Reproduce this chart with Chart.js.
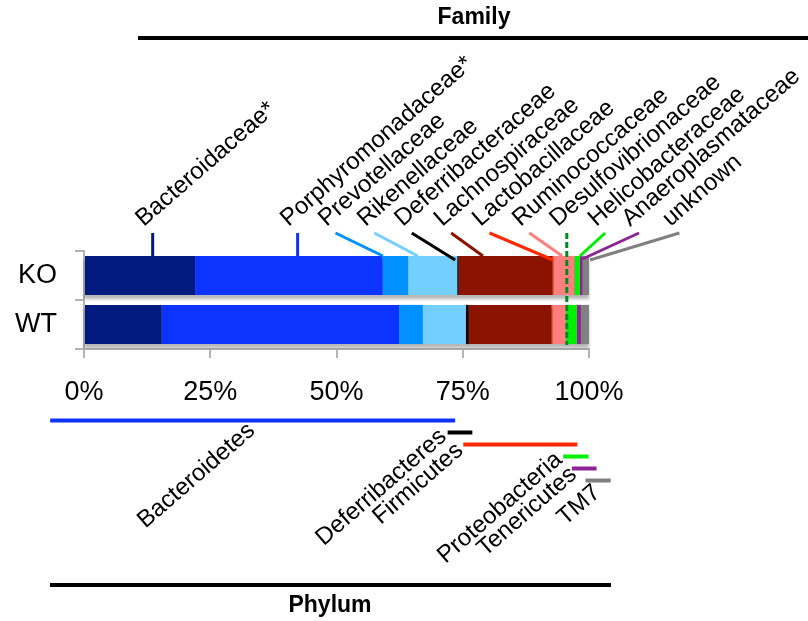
<!DOCTYPE html>
<html>
<head>
<meta charset="utf-8">
<script src="https://cdn.jsdelivr.net/npm/chart.js@4.4.1/dist/chart.umd.min.js"></script>
<style>
  body { margin: 0; background: #fff; }
  #grafico { display: block; }
</style>
</head>
<body>
<canvas id="grafico" width="808" height="621"></canvas>
<script>
const groups = ['KO', 'WT'];
const families = ['Bacteroidaceae*', 'Porphyromonadaceae*', 'Prevotellaceae', 'Rikenellaceae',
    'Deferribacteraceae', 'Lachnospiraceae', 'Lactobacillaceae', 'Ruminococcaceae',
    'Desulfovibrionaceae', 'Helicobacteraceae', 'Anaeroplasmataceae', 'unknown'];
const koValues = [22.0, 37.15, 5.05, 9.7, 0.3, 18.6, 0.2, 4.1, 0.1, 1.0, 0.55, 1.25];
const wtValues = [15.4, 47.0, 4.7, 8.5, 0.6, 16.4, 0.2, 2.6, 0.1, 2.1, 0.8, 1.6];
const familyColors = ['#001a80', '#0d33ff', '#0090ff', '#73cfff', '#000000', '#8b1300',
    '#ff2a00', '#ff7f7f', '#008a1e', '#00f000', '#8c2496', '#808080'];
const xTicks = [0, 25, 50, 75, 100];

// family label anchors and leader line ends, in axis %
const labelAt = [13.6, 42.3, 49.8, 57.5, 64.9, 72.7, 80.3, 88.2, 95.6, 103.2, 109.9, 117.9];
const leaderTo = [13.6, 42.3, 59.2, 66.1, 73.5, 79.0, 92.9, 94.7, 95.6, 98.2, 98.7, 100.2];
const leaderDrop = [0, 0, 0, 0, 4, 0, 4, 0, 0, 0, 3, 4];

const phyla = ['Bacteroidetes', 'Deferribacteres', 'Firmicutes', 'Proteobacteria', 'Tenericutes', 'TM7'];
const phylumFrom = [-6.7, 72.0, 75.1, 94.9, 96.6, 99.3];
const phylumTo = [73.5, 76.9, 97.7, 99.9, 101.5, 104.3];
const phylumColors = ['#0d33ff', '#000000', '#ff2a00', '#00f000', '#8c2496', '#808080'];
// label end offset from the start of each phylum line (px)
const phylumLabelDx = [206, 0, 1, 0, 6, 16];
const phylumLabelDy = [12, 6, 8, 5, 8, 14];

const FONT = '"Liberation Sans", Arial, sans-serif';
const ANGLE = -41 * Math.PI / 180;

const annotations = {
    id: 'annotations',
    beforeDatasetsDraw(chart) {
        const ctx = chart.ctx;
        const x = chart.scales.x;
        const meta = chart.getDatasetMeta(0);
        ctx.save();
        ctx.filter = 'blur(1.5px)';
        ctx.fillStyle = 'rgba(0,0,0,0.28)';
        meta.data.forEach(bar => {
            ctx.fillRect(x.left, bar.y - bar.height / 2 + 4, x.getPixelForValue(100) - x.left, bar.height);
        });
        ctx.restore();
    },
    afterDatasetsDraw(chart) {
        const ctx = chart.ctx;
        const x = chart.scales.x;
        const area = chart.chartArea;
        const topY = 233;
        ctx.save();
        ctx.lineWidth = 3;
        families.forEach((name, i) => {
            const x0 = x.getPixelForValue(labelAt[i]);
            const x1 = x.getPixelForValue(leaderTo[i]);
            ctx.strokeStyle = familyColors[i];
            ctx.beginPath();
            if (name === 'Desulfovibrionaceae') {
                ctx.setLineDash([6, 3]);
                ctx.moveTo(x0, topY);
                ctx.lineTo(x1, area.bottom - 4);
            } else {
                ctx.setLineDash([]);
                ctx.moveTo(x0, topY);
                ctx.lineTo(x1, area.top + 5 + leaderDrop[i]);
            }
            ctx.stroke();
        });
        ctx.restore();
    },
    afterDraw(chart) {
        const ctx = chart.ctx;
        const x = chart.scales.x;
        ctx.save();

        // family labels
        ctx.fillStyle = '#000';
        ctx.font = '24px ' + FONT;
        ctx.textAlign = 'left';
        ctx.textBaseline = 'alphabetic';
        families.forEach((name, i) => {
            ctx.save();
            ctx.translate(x.getPixelForValue(labelAt[i]) - 9, 227);
            ctx.rotate(ANGLE);
            ctx.fillText(name, 0, 0);
            ctx.restore();
        });

        // phylum lines and labels
        ctx.lineWidth = 4;
        ctx.textAlign = 'right';
        phyla.forEach((name, i) => {
            const y = 420.5 + i * 12;
            const x0 = x.getPixelForValue(phylumFrom[i]);
            const x1 = x.getPixelForValue(phylumTo[i]);
            ctx.strokeStyle = phylumColors[i];
            ctx.beginPath();
            ctx.moveTo(x0, y);
            ctx.lineTo(x1, y);
            ctx.stroke();

            ctx.save();
            ctx.translate(x0 + phylumLabelDx[i], y + phylumLabelDy[i]);
            ctx.rotate(ANGLE);
            ctx.fillText(name, 0, 0);
            ctx.restore();
        });

        // Family / Phylum headers
        ctx.strokeStyle = '#000';
        ctx.lineWidth = 4;
        ctx.beginPath();
        ctx.moveTo(138, 38);
        ctx.lineTo(808, 38);
        ctx.moveTo(50, 585);
        ctx.lineTo(611, 585);
        ctx.stroke();
        ctx.font = 'bold 23px ' + FONT;
        ctx.textAlign = 'center';
        ctx.textBaseline = 'middle';
        ctx.fillText('Family', 474, 18);
        ctx.fillText('Phylum', 330, 606);
        ctx.restore();
    }
};

const datasets = families.map((name, i) => ({
    label: name,
    data: [koValues[i], wtValues[i]],
    backgroundColor: familyColors[i],
    borderWidth: 0,
    categoryPercentage: 0.8,
    barPercentage: 1.0
}));

const myChart = new Chart(document.getElementById('grafico'), {
    type: 'bar',
    data: { labels: groups, datasets: datasets },
    options: {
        indexAxis: 'y',
        responsive: false,
        animation: false,
        devicePixelRatio: 1,
        layout: { padding: { top: 251, right: 219, bottom: 212, left: 0 } },
        plugins: {
            legend: { display: false },
            tooltip: { enabled: false }
        },
        scales: {
            x: {
                stacked: true,
                min: 0,
                max: 100,
                afterFit: s => { s.height = 60; },
                afterBuildTicks: s => { s.ticks = xTicks.map(v => ({ value: v })); },
                border: { color: '#b4b4b4', width: 2 },
                grid: { drawOnChartArea: false, tickLength: 9, color: '#b4b4b4', lineWidth: 2 },
                ticks: {
                    callback: v => v + '%',
                    color: '#000',
                    padding: 18,
                    maxRotation: 0,
                    font: { family: FONT, size: 27 }
                }
            },
            y: {
                stacked: true,
                afterFit: s => { s.width = 84; },
                border: { color: '#b4b4b4', width: 2 },
                grid: { drawOnChartArea: false, tickLength: 9, color: '#b4b4b4', lineWidth: 2, offset: true },
                ticks: {
                    color: '#000',
                    padding: 18,
                    font: { family: FONT, size: 27 }
                }
            }
        }
    },
    plugins: [annotations]
});
</script>
</body>
</html>
